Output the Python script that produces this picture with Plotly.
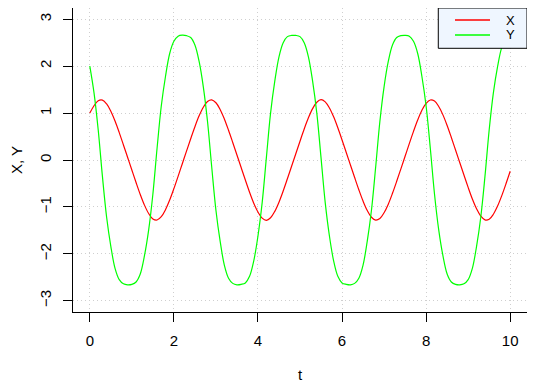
import plotly.graph_objects as go

t = [round(0.1 * k, 1) for k in range(101)]

X = [1.00, 1.156, 1.263, 1.276, 1.195, 1.040, 0.830, 0.584, 0.321, 0.054,
     -0.214, -0.480, -0.735, -0.962, -1.141, -1.255, -1.279, -1.208, -1.059, -0.853,
     -0.610, -0.348, -0.080, 0.188, 0.454, 0.710, 0.941, 1.125, 1.248, 1.282,
     1.220, 1.077, 0.876, 0.635, 0.374, 0.107, -0.161, -0.427, -0.686, -0.920,
     -1.110, -1.240, -1.286, -1.232, -1.095, -0.899, -0.661, -0.401, -0.134, 0.134,
     0.401, 0.661, 0.899, 1.095, 1.232, 1.286, 1.240, 1.110, 0.920, 0.686,
     0.427, 0.161, -0.107, -0.374, -0.635, -0.876, -1.077, -1.220, -1.282, -1.248,
     -1.125, -0.941, -0.710, -0.454, -0.188, 0.080, 0.348, 0.610, 0.853, 1.059,
     1.208, 1.279, 1.255, 1.141, 0.962, 0.735, 0.480, 0.214, -0.054, -0.321,
     -0.584, -0.830, -1.040, -1.195, -1.276, -1.263, -1.156, -0.983, -0.759, -0.507,
     -0.241]

Y = [2.00, 1.43, 0.64, -0.35, -1.22, -1.84, -2.31, -2.55, -2.64, -2.66,
     -2.65, -2.60, -2.43, -2.04, -1.49, -0.73, 0.25, 1.15, 1.78, 2.27,
     2.53, 2.64, 2.66, 2.65, 2.61, 2.45, 2.10, 1.56, 0.82, -0.15,
     -1.07, -1.73, -2.24, -2.52, -2.63, -2.66, -2.65, -2.62, -2.48, -2.15,
     -1.62, -0.91, 0.05, 1.00, 1.68, 2.20, 2.50, 2.63, 2.655, 2.655,
     2.63, 2.50, 2.20, 1.68, 1.00, 0.05, -0.91, -1.62, -2.15, -2.48,
     -2.62, -2.65, -2.66, -2.63, -2.52, -2.24, -1.73, -1.07, -0.15, 0.82,
     1.56, 2.10, 2.45, 2.61, 2.65, 2.657, 2.64, 2.53, 2.27, 1.78,
     1.15, 0.25, -0.73, -1.49, -2.04, -2.43, -2.60, -2.65, -2.66, -2.64,
     -2.55, -2.31, -1.84, -1.22, -0.35, 0.64, 1.43, 1.99, 2.40, 2.59,
     2.65]

x_ticks = [0, 2, 4, 6, 8, 10]
y_ticks = [-3, -2, -1, 0, 1, 2, 3]
series_names = ["X", "Y"]
series_colors = ["#FF0000", "#00FF00"]

FONT = "Liberation Sans, Arial, sans-serif"
FS = 15

fig = go.Figure()
for name, vals, col in zip(series_names, [X, Y], series_colors):
    fig.add_trace(go.Scatter(x=t, y=vals, mode="lines", name=name, showlegend=False,
                             line=dict(color=col, width=1.2, shape="spline", smoothing=1)))

axis_common = dict(
    showline=True, mirror=True, linecolor="#000000", linewidth=1,
    ticks="outside", ticklen=9, tickcolor="#000000", tickwidth=1,
    showgrid=True, gridcolor="#CFCFCF", griddash="1px,3px", gridwidth=1,
    zeroline=False, automargin=False,
    tickfont=dict(family=FONT, size=FS, color="#000000"),
)

# legend box (R-style), drawn in plot-area paper coordinates
leg_x0, leg_x1, leg_y0, leg_y1 = 0.8046, 1.0, 0.8674, 1.0
line_x0, line_x1, text_x = 0.8414, 0.9185, 0.9626
row_y = [0.9605, 0.9112]

shapes = [dict(type="rect", xref="paper", yref="paper", x0=leg_x0, x1=leg_x1,
               y0=leg_y0, y1=leg_y1, fillcolor="#EFF6FF",
               line=dict(color="#000000", width=1), layer="above")]
annotations = []
for name, col, ry in zip(series_names, series_colors, row_y):
    shapes.append(dict(type="line", xref="paper", yref="paper", x0=line_x0, x1=line_x1,
                       y0=ry, y1=ry, line=dict(color=col, width=1.6), layer="above"))
    annotations.append(dict(xref="paper", yref="paper", x=text_x, y=ry, text=name,
                            showarrow=False, xanchor="center", yanchor="middle",
                            font=dict(family=FONT, size=13, color="#000000")))

fig.update_layout(
    width=527, height=383,
    margin=dict(l=65, r=8, t=0, b=79),
    paper_bgcolor="white", plot_bgcolor="white",
    font=dict(family=FONT, size=FS, color="#000000"),
    xaxis=dict(range=[-0.4, 10.4], tickvals=x_ticks, ticklabelstandoff=6,
               title=dict(text="t", font=dict(family=FONT, size=FS), standoff=21),
               **axis_common),
    yaxis=dict(range=[-3.24, 3.24], tickvals=y_ticks, tickangle=-90, ticklabelstandoff=6,
               title=dict(text="X, Y", font=dict(family=FONT, size=FS), standoff=24),
               **axis_common),
    shapes=shapes,
    annotations=annotations,
    showlegend=False,
)

fig.write_html("out.html")
